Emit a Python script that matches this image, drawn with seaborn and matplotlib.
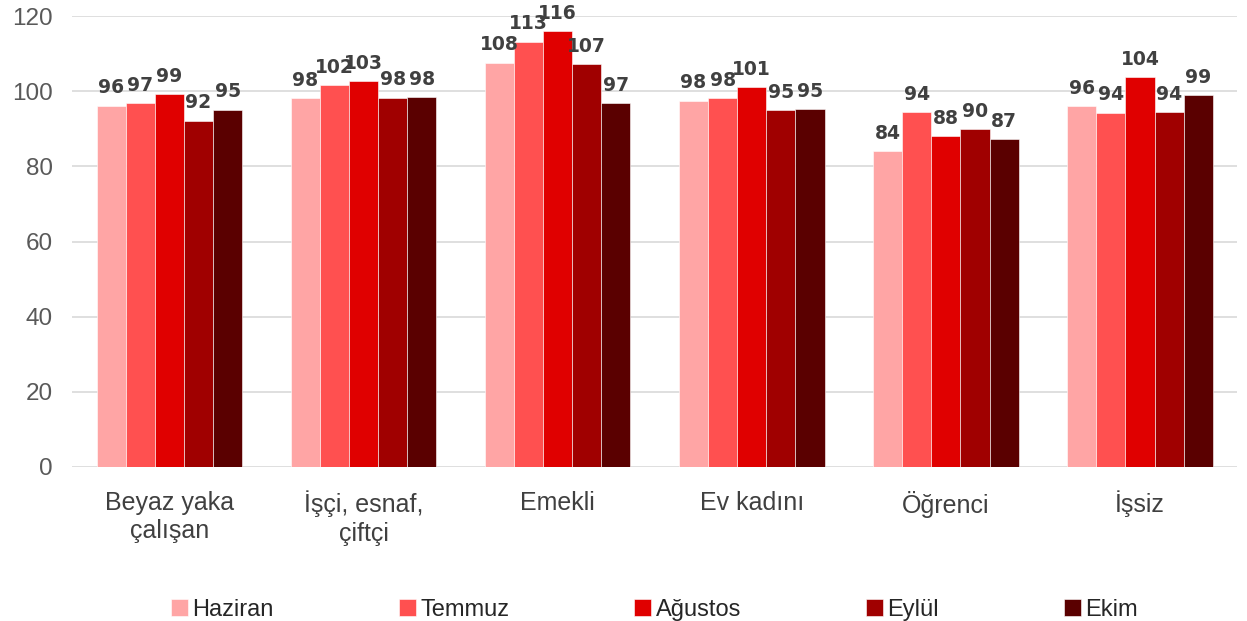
import pandas as pd
import matplotlib.pyplot as plt
import seaborn as sns

# categories and series
categories = ["Beyaz yaka\nçalışan", "İşçi, esnaf,\nçiftçi", "Emekli", "Ev kadını", "Öğrenci", "İşsiz"]
months = ["Haziran", "Temmuz", "Ağustos", "Eylül", "Ekim"]

haziran = [96.2, 98.2, 107.6, 97.5, 84.1, 96.0]
temmuz = [96.8, 101.6, 113.2, 98.2, 94.4, 94.3]
agustos = [99.2, 102.7, 116.0, 101.1, 88.0, 103.8]
eylul = [92.2, 98.3, 107.2, 95.0, 90.0, 94.4]
ekim = [95.1, 98.4, 96.8, 95.2, 87.2, 99.0]

colors = ["#FFA5A5", "#FF5050", "#E00000", "#A00000", "#5A0000"]

# long format table for seaborn
series = [haziran, temmuz, agustos, eylul, ekim]
rows = []
for m, vals in zip(months, series):
    for c, v in zip(categories, vals):
        rows.append({"kategori": c, "ay": m, "deger": v})
df = pd.DataFrame(rows)

sns.set_style("white")
plt.rcParams['font.family'] = ['Liberation Sans', 'DejaVu Sans']

fig = plt.figure(figsize=(12.47, 6.21), dpi=100)
ax = fig.add_axes([0.058, 0.248, 0.934, 0.726])

sns.barplot(data=df, x="kategori", y="deger", hue="ay", palette=colors,
            saturation=1, width=0.75, gap=0, edgecolor="white", linewidth=0.4, ax=ax)

# value labels
for cont in ax.containers:
    ax.bar_label(cont, fmt="%.0f", padding=6, fontsize=13.5, fontweight="bold",
                 color="#404040", family="DejaVu Sans", clip_on=False)

ax.set_ylim(0, 120)
ax.set_yticks(range(0, 121, 20))
ax.yaxis.grid(True, color="#D9D9D9", linewidth=1.2)
ax.set_axisbelow(True)
for s in ax.spines.values():
    s.set_visible(False)
ax.set_xlabel("")
ax.set_ylabel("")
ax.tick_params(axis="y", length=0, labelsize=17.5, labelcolor="#595959", pad=14)
ax.tick_params(axis="x", length=0, labelsize=18, labelcolor="#404040", pad=17)
for t in ax.get_xticklabels():
    t.set_linespacing(1.25)

leg = ax.legend(loc="upper center", bbox_to_anchor=(0.5, -0.245), ncol=5, frameon=False,
                fontsize=17, handlelength=0.7, handleheight=0.7, handletextpad=0.2,
                columnspacing=5.3)

fig.savefig("out.png", dpi=100)
